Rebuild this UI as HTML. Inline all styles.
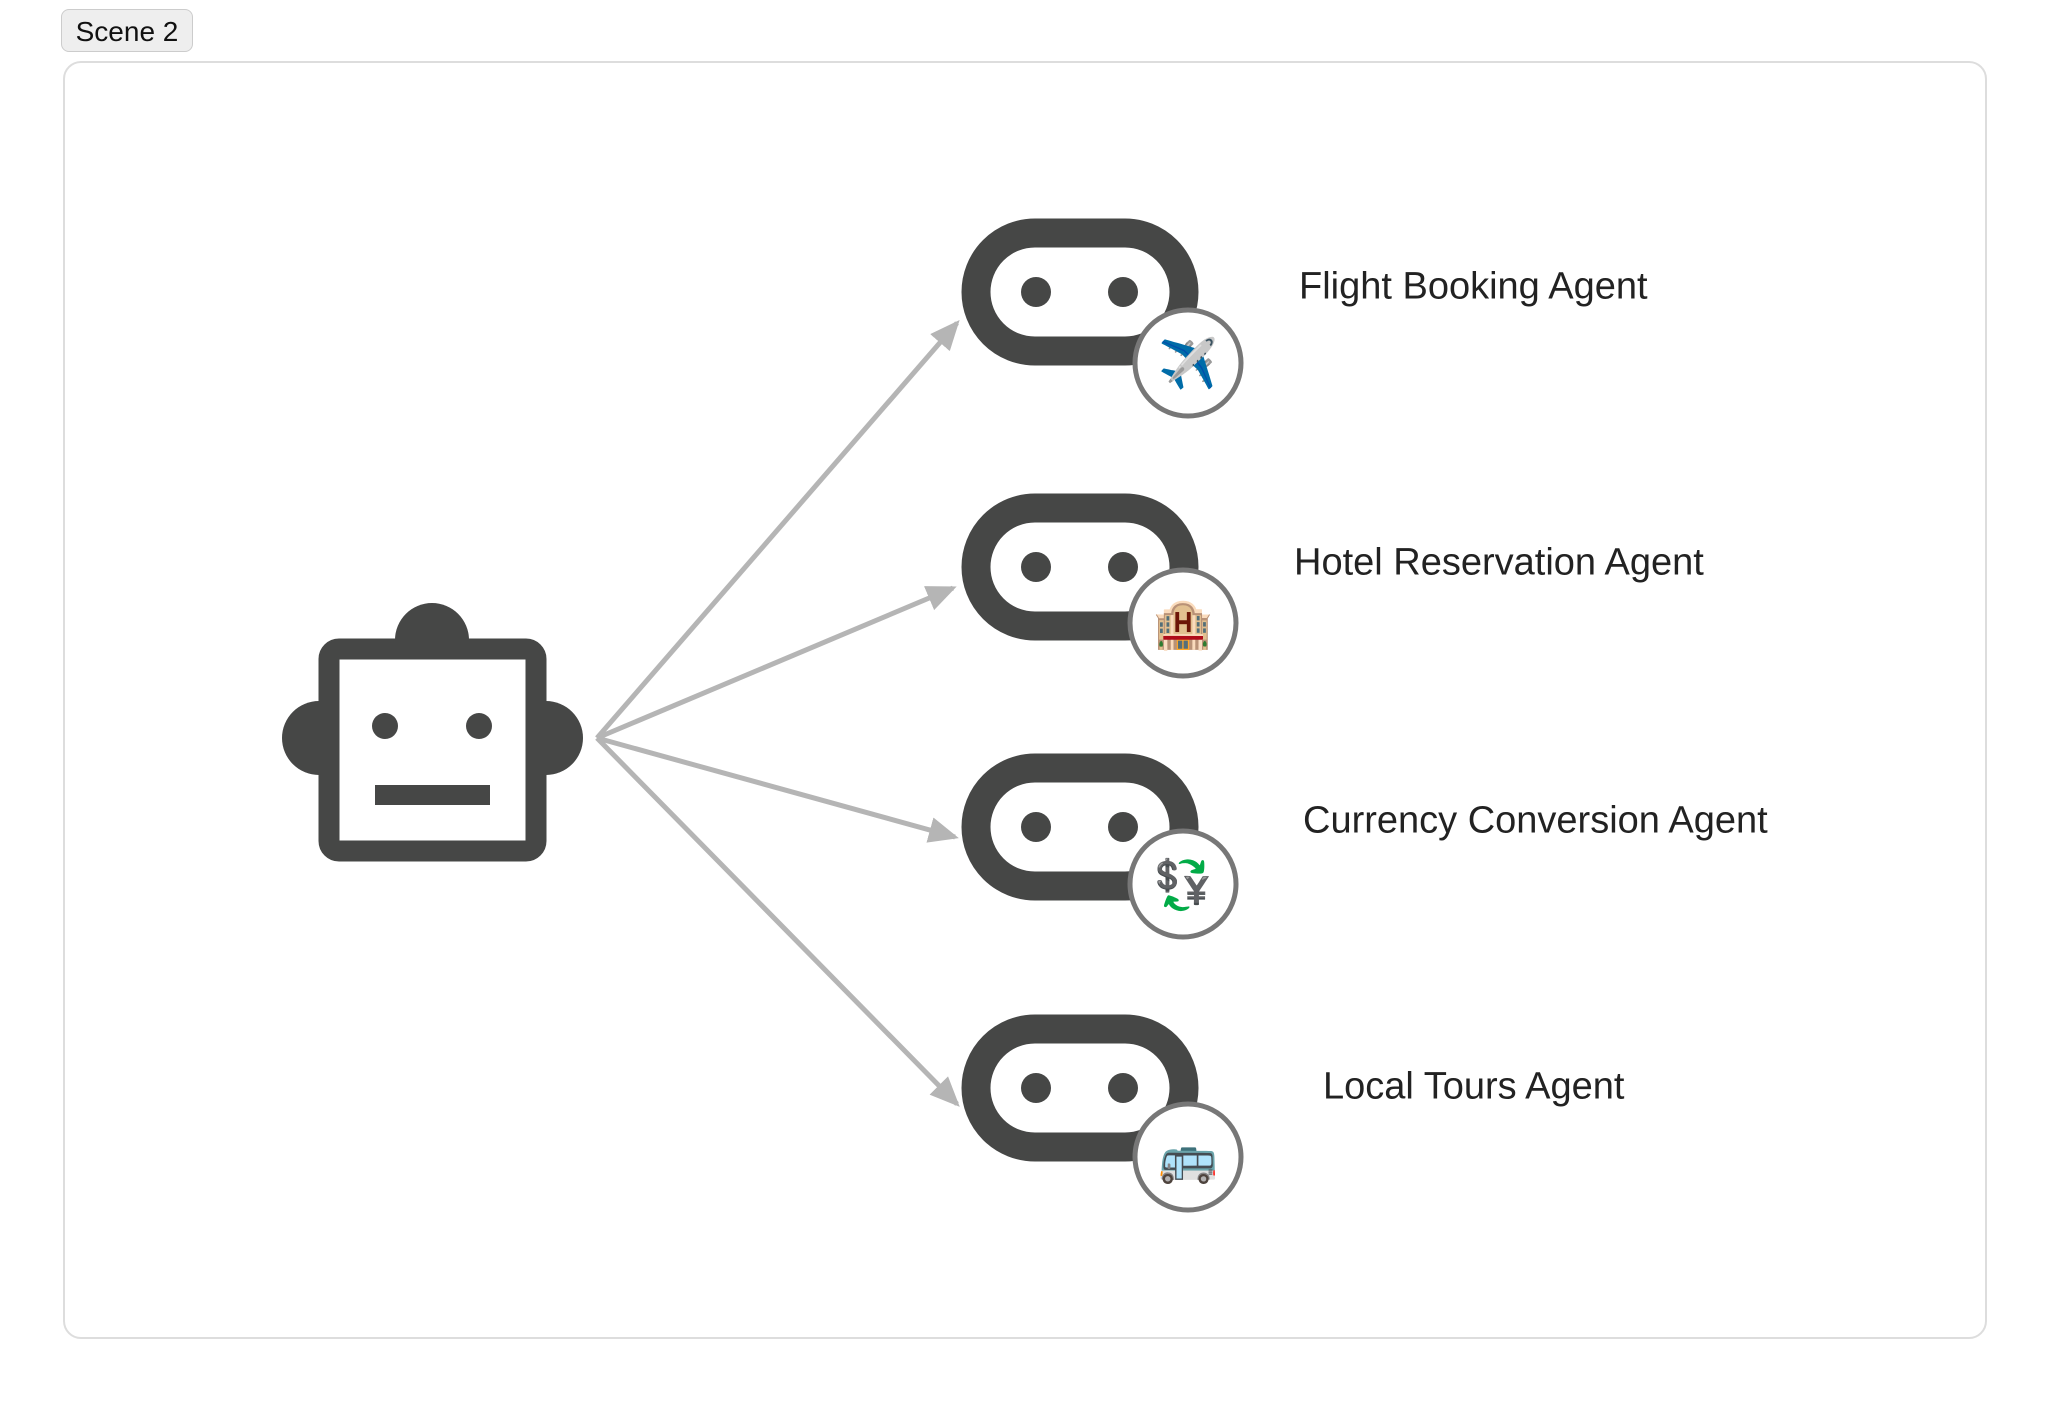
<!DOCTYPE html>
<html><head><meta charset="utf-8"><style>
body{margin:0;width:2048px;height:1402px;background:#fff;position:relative;overflow:hidden;font-family:"Liberation Sans",sans-serif}
.btn{position:absolute;left:61px;top:9px;width:130px;height:41px;border:1px solid #ccc;border-radius:8px;background:#eee;font-size:28px;line-height:43px;text-align:center;color:#111}
.frame{position:absolute;left:63px;top:61px;width:1920px;height:1274px;border:2px solid #ddd;border-radius:18px}
.lbl{position:absolute;font-size:38px;color:#222;transform:translateY(-50%);white-space:nowrap}
</style></head><body>
<div class="btn">Scene 2</div>
<div class="frame"></div>
<svg width="2048" height="1402" style="position:absolute;left:0;top:0">
<defs>
<marker id="m" markerWidth="30" markerHeight="30" refX="26" refY="15" orient="auto" markerUnits="userSpaceOnUse"><path d="M0,2L30,15L0,28z" fill="#b5b5b5"/></marker></defs>
<g stroke="#b5b5b5" stroke-width="5" fill="none" marker-end="url(#m)">
<line x1="597" y1="738" x2="957" y2="323"/>
<line x1="597" y1="738" x2="953" y2="588"/>
<line x1="597" y1="738" x2="955" y2="837"/>
<line x1="597" y1="738" x2="957" y2="1104"/>
</g>
<g fill="#464746">
<circle cx="432" cy="640" r="37"/>
<circle cx="319" cy="738" r="37"/>
<circle cx="546" cy="738" r="37"/>
</g>
<rect x="329" y="649" width="207" height="202" rx="10" fill="#fff" stroke="#464746" stroke-width="21"/>
<g fill="#464746"><circle cx="385" cy="726" r="13"/><circle cx="479" cy="726" r="13"/><rect x="375" y="785" width="115" height="20"/></g>
<g id="p">
<rect x="976" y="233" width="208" height="118" rx="59" fill="#fff" stroke="#464746" stroke-width="29"/>
<circle cx="1036" cy="292" r="15" fill="#464746"/><circle cx="1123" cy="292" r="15" fill="#464746"/>
</g>
<use href="#p" y="275"/><use href="#p" y="535"/><use href="#p" y="796"/>
<g fill="#fff" stroke="#777" stroke-width="5">
<circle cx="1188" cy="363" r="53"/><circle cx="1183" cy="623" r="53"/><circle cx="1183" cy="884" r="53"/><circle cx="1188" cy="1157" r="53"/>
</g>
<g font-size="48" text-anchor="middle" font-family="'Noto Color Emoji','DejaVu Sans',sans-serif">
<text x="1188" y="380" fill="#1565c0">✈</text>
<text x="1183" y="640" fill="#b5651d">🏨</text>
<text x="1183" y="901" fill="#555">💱</text>
<text x="1188" y="1174" fill="#4a90c0">🚌</text>
</g>
</svg>
<div class="lbl" style="left:1299px;top:287px">Flight Booking Agent</div>
<div class="lbl" style="left:1294px;top:563px">Hotel Reservation Agent</div>
<div class="lbl" style="left:1303px;top:821px">Currency Conversion Agent</div>
<div class="lbl" style="left:1323px;top:1087px">Local Tours Agent</div>
</body></html>
